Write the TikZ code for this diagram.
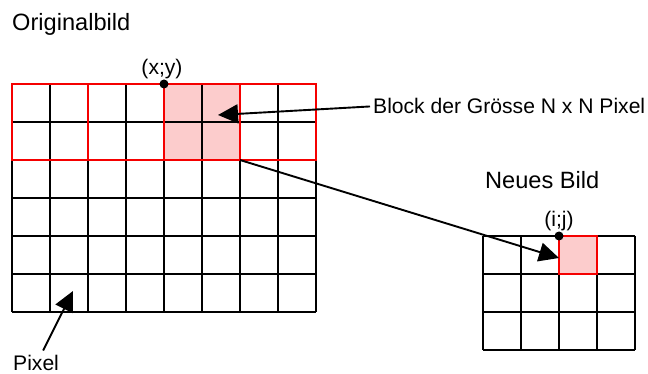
\documentclass[tikz,border=0pt]{standalone}
\usepackage{fontspec}
\setmainfont{Liberation Sans}
\usetikzlibrary{arrows.meta}
\definecolor{pinkfill}{RGB}{252,204,204}
\definecolor{blockred}{RGB}{245,0,0}
\begin{document}
\begin{tikzpicture}[x=1pt,y=-1pt,
  gridline/.style={line width=1.9pt,black},
  redline/.style={line width=2.9pt,blockred},
  titletext/.style={inner sep=0pt,font=\fontsize{23.6}{28}\selectfont},
  labeltext/.style={inner sep=0pt,font=\fontsize{21.1}{25}\selectfont},
  dotnode/.style={circle,fill=black,inner sep=0pt,minimum size=9pt},
  arr/.style={-{Triangle[length=20pt,width=19pt]},line width=1.9pt,black}]
\useasboundingbox (0,0) rectangle (648,374);
% ---- original image ----
\fill[pinkfill] (164,84) rectangle (240,160);
\foreach \i in {0,...,8} \draw[gridline] (12+38*\i,84) -- (12+38*\i,312);
\foreach \j in {0,...,6} \draw[gridline] (12,84+38*\j) -- (316,84+38*\j);
\foreach \k in {0,...,3} \draw[redline] (12+76*\k,84) rectangle (88+76*\k,160);
% ---- new image ----
\fill[pinkfill] (559,236) rectangle (597,274);
\foreach \i in {0,...,4} \draw[gridline] (483+38*\i,236) -- (483+38*\i,350);
\foreach \j in {0,...,3} \draw[gridline] (483,236+38*\j) -- (635,236+38*\j);
\draw[redline] (559,236) rectangle (597,274);
% ---- labels ----
\node[titletext,anchor=base west] (orig) at (12,31) {Originalbild};
\node[titletext,anchor=base west] (neu) at (485,189) {Neues Bild};
\node[labeltext,anchor=base] (xylab) at (162,75) {(x;y)};
\node[labeltext,anchor=base] (ijlab) at (559,226) {(i;j)};
\node[labeltext,anchor=base west] (blocklab) at (373,114) {Block der Grösse N x N Pixel};
\node[labeltext,anchor=base west] (pixlab) at (13,370) {Pixel};
\node[dotnode] (xy) at (164,84) {};
\node[dotnode] (ij) at (559,236) {};
% ---- connectors ----
\coordinate (blocktip) at (218,115);
\coordinate (blockcorner) at (240,160);
\coordinate (ijtip) at (559,258);
\coordinate (pixtip) at (73,291);
\draw[arr] ([xshift=-3pt]blocklab.west) -- (blocktip);
\draw[arr] (blockcorner) -- (ijtip);
\draw[arr] ([xshift=7pt,yshift=4pt]pixlab.north) -- (pixtip);
\end{tikzpicture}
\end{document}
